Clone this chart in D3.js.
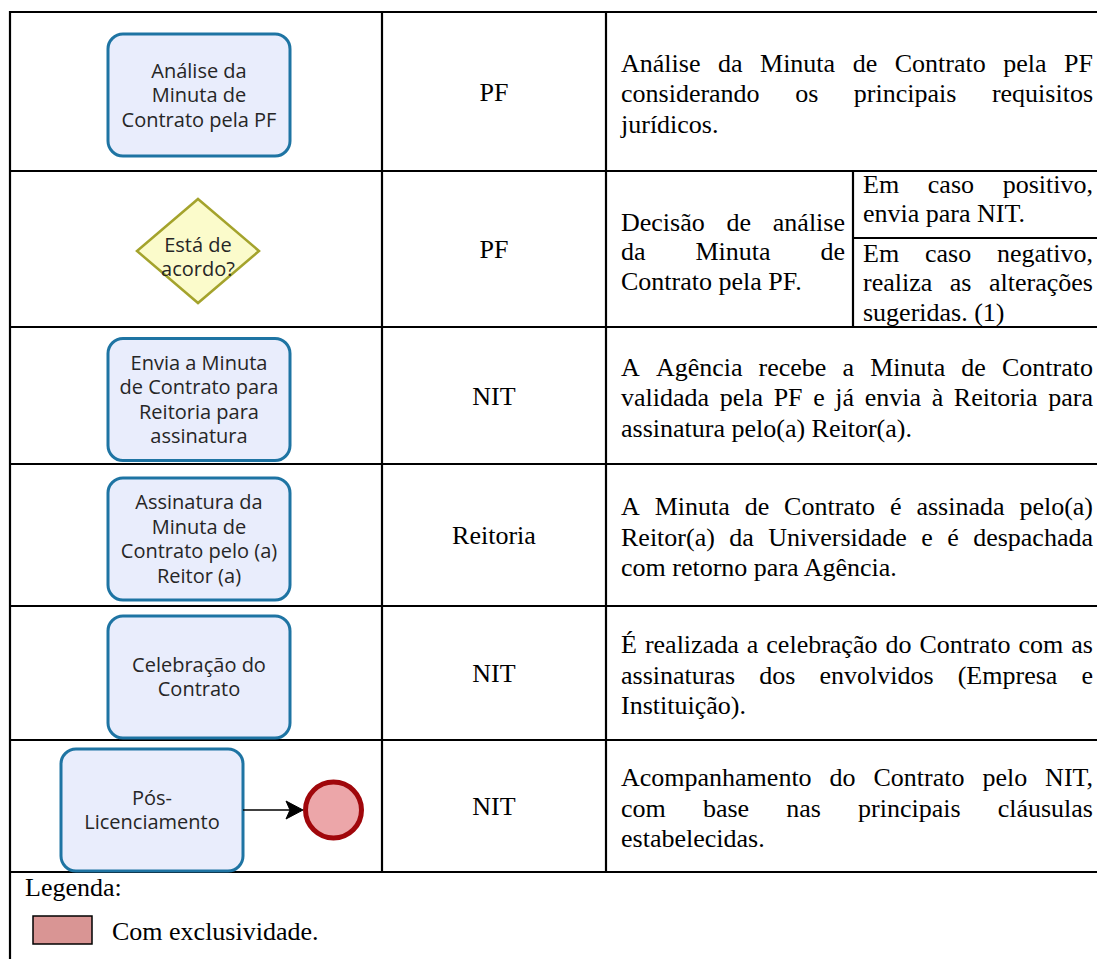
<!DOCTYPE html>
<html><head><meta charset="utf-8">
<script src="https://cdn.jsdelivr.net/npm/d3@7"></script>
<style>body{margin:0;background:#fff}svg{display:block}</style>
</head><body>
<svg id="chart" width="1097" height="959"></svg>
<script>
// ---------- DATA ----------
const stepLabels = [
  ["Análise da", "Minuta de", "Contrato pela PF"],
  ["Está de", "acordo?"],
  ["Envia a Minuta", "de Contrato para", "Reitoria para", "assinatura"],
  ["Assinatura da", "Minuta de", "Contrato pelo (a)", "Reitor (a)"],
  ["Celebração do", "Contrato"],
  ["Pós-", "Licenciamento"]
];
const stepTypes = ["task", "gateway", "task", "task", "task", "taskEnd"];
const actors = ["PF", "PF", "NIT", "Reitoria", "NIT", "NIT"];
const descriptions = [
  ["Análise da Minuta de Contrato pela PF", "considerando os principais requisitos", "jurídicos."],
  ["Decisão de análise", "da Minuta de", "Contrato pela PF."],
  ["A Agência recebe a Minuta de Contrato", "validada pela PF e já envia à Reitoria para", "assinatura pelo(a) Reitor(a)."],
  ["A Minuta de Contrato é assinada pelo(a)", "Reitor(a) da Universidade e é despachada", "com retorno para Agência."],
  ["É realizada a celebração do Contrato com as", "assinaturas dos envolvidos (Empresa e", "Instituição)."],
  ["Acompanhamento do Contrato pelo NIT,", "com base nas principais cláusulas", "estabelecidas."]
];
const decisionOutcomes = [
  ["Em caso positivo,", "envia para NIT."],
  ["Em caso negativo,", "realiza as alterações", "sugeridas. (1)"]
];
const legendTitle = "Legenda:";
const legendItems = ["Com exclusividade."];

// ---------- LAYOUT ----------
const W = 1097, H = 959;
const rowEdges = [12, 171, 327, 464, 606, 740, 872];
const colEdges = [10, 382, 606, W];
const subColX = 853, subRowY = 238;
const serif = "'Liberation Serif','Times New Roman',serif";
const sans = "'Open Sans','Noto Sans',sans-serif";
const fsSerif = 26, lhSerif = 30.5;
const fsSans = 20, lhSans = 24.5;

const svg = d3.select("#chart");
const rows = d3.range(actors.length);
const yTop = d3.scaleOrdinal().domain(rows).range(rowEdges.slice(0, -1));
const yBot = d3.scaleOrdinal().domain(rows).range(rowEdges.slice(1));
const yMid = i => (yTop(i) + yBot(i)) / 2;
const xCol = d3.scaleOrdinal().domain([0, 1, 2, 3]).range(colEdges);

// ---------- GRID ----------
const grid = svg.append("g").attr("stroke", "#000").attr("stroke-width", 2.2);
grid.selectAll("line.h").data(rowEdges).join("line")
  .attr("x1", colEdges[0] - 1).attr("x2", W).attr("y1", d => d).attr("y2", d => d);
grid.append("line").attr("x1", colEdges[0]).attr("x2", colEdges[0]).attr("y1", rowEdges[0] - 1).attr("y2", H);
[1, 2].forEach(c => grid.append("line").attr("x1", xCol(c)).attr("x2", xCol(c))
  .attr("y1", rowEdges[0]).attr("y2", rowEdges[rowEdges.length - 1]));
grid.append("line").attr("x1", subColX).attr("x2", subColX).attr("y1", yTop(1)).attr("y2", yBot(1));
grid.append("line").attr("x1", subColX).attr("x2", W).attr("y1", subRowY).attr("y2", subRowY);

// ---------- TEXT HELPERS ----------
function block(g, lines, x0, x1, firstBaseline, lh) {
  lines.forEach((line, li) => {
    const y = firstBaseline + li * lh;
    const justify = li < lines.length - 1;
    const words = line.split(" ");
    if (!justify || words.length < 2) {
      g.append("text").attr("x", x0).attr("y", y).text(line);
      return;
    }
    const nodes = words.map(w => g.append("text").attr("y", y).text(w));
    const widths = nodes.map(n => n.node().getComputedTextLength());
    const gap = (x1 - x0 - d3.sum(widths)) / (words.length - 1);
    let x = x0;
    nodes.forEach((n, i) => { n.attr("x", x); x += widths[i] + gap; });
  });
}
const serifG = svg.append("g").attr("font-family", serif).attr("font-size", fsSerif).attr("fill", "#000");

// actors column
serifG.selectAll("text.actor").data(actors).join("text")
  .attr("class", "actor")
  .attr("x", (xCol(1) + xCol(2)) / 2)
  .attr("y", (d, i) => yMid(i) + 9)
  .attr("text-anchor", "middle").text(d => d);

// description column
const descLeft = xCol(2) + 15, descRight = 1093;
descriptions.forEach((lines, i) => {
  if (i === 1) {
    const fb = yMid(i) - (lines.length - 1) / 2 * 29.5 + 11;
    block(serifG, lines, descLeft, subColX - 8, fb, 29.5);
    block(serifG, decisionOutcomes[0], subColX + 10, descRight, yTop(i) + 21.5, 29);
    block(serifG, decisionOutcomes[1], subColX + 10, descRight, subRowY + 23.5, 29.5);
  } else {
    const fb = yMid(i) - (lines.length - 1) / 2 * lhSerif + 10.5;
    block(serifG, lines, descLeft, descRight, fb, lhSerif);
  }
});

// ---------- SHAPES ----------
const boxW = 182, boxH = 122;
const shapes = svg.append("g");
rows.forEach(i => {
  const t = stepTypes[i];
  const g = shapes.append("g");
  let cx = (xCol(0) + xCol(1)) / 2 + 3, cy = yMid(i) + 4;
  if (t === "taskEnd") cx = 152;
  if (i === 0) cy = 95;
  let fs = fsSans;
  if (t === "gateway") {
    cx = 198; cy = yMid(i) + 2;
    const hw = 61, hh = 52;
    g.append("path")
      .attr("d", `M${cx},${cy - hh}L${cx + hw},${cy}L${cx},${cy + hh}L${cx - hw},${cy}Z`)
      .attr("fill", "#fbfbcb").attr("stroke", "#a4a32c").attr("stroke-width", 2.5);
    cy += 6; fs = 20;
  } else {
    const top = Math.min(cy - boxH / 2, yBot(i) - boxH - 1);
    g.append("rect").attr("x", cx - boxW / 2).attr("y", top)
      .attr("width", boxW).attr("height", boxH).attr("rx", 15)
      .attr("fill", "#e9edfc").attr("stroke", "#1e74a3").attr("stroke-width", 3);
    cy = top + boxH / 2;
  }
  const lines = stepLabels[i];
  g.append("g").attr("font-family", sans).attr("font-size", fs).attr("fill", "#262626")
    .attr("text-anchor", "middle")
    .selectAll("text").data(lines).join("text")
    .attr("x", cx)
    .attr("y", (d, k) => cy + (k - (lines.length - 1) / 2) * lhSans + 7)
    .text(d => d);
  if (t === "taskEnd") {
    const r = 28, ecx = 333.5, ecy = cy;
    const x0 = cx + boxW / 2, tip = ecx - r - 2.5;
    g.append("line").attr("x1", x0).attr("x2", tip - 10).attr("y1", ecy).attr("y2", ecy)
      .attr("stroke", "#000").attr("stroke-width", 1.6);
    g.append("path")
      .attr("d", `M${tip - 17},${ecy - 9}L${tip},${ecy}L${tip - 17},${ecy + 9}L${tip - 13},${ecy}Z`)
      .attr("fill", "#000").attr("stroke", "#000").attr("stroke-width", 1).attr("stroke-linejoin", "round");
    g.append("circle").attr("cx", ecx).attr("cy", ecy).attr("r", r)
      .attr("fill", "#eca6a9").attr("stroke", "#a0070b").attr("stroke-width", 5);
  }
});

// ---------- LEGEND ----------
const lg = svg.append("g").attr("font-family", serif).attr("font-size", fsSerif).attr("fill", "#000");
lg.append("text").attr("x", 25).attr("y", 896).text(legendTitle);
lg.selectAll("rect").data(legendItems).join("rect")
  .attr("x", 33).attr("y", (d, i) => 916 + i * 40).attr("width", 59).attr("height", 28)
  .attr("fill", "#d99594").attr("stroke", "#000").attr("stroke-width", 1.5);
lg.selectAll("text.item").data(legendItems).join("text").attr("class", "item")
  .attr("x", 112).attr("y", (d, i) => 940 + i * 40).text(d => d);
</script>
</body></html>
